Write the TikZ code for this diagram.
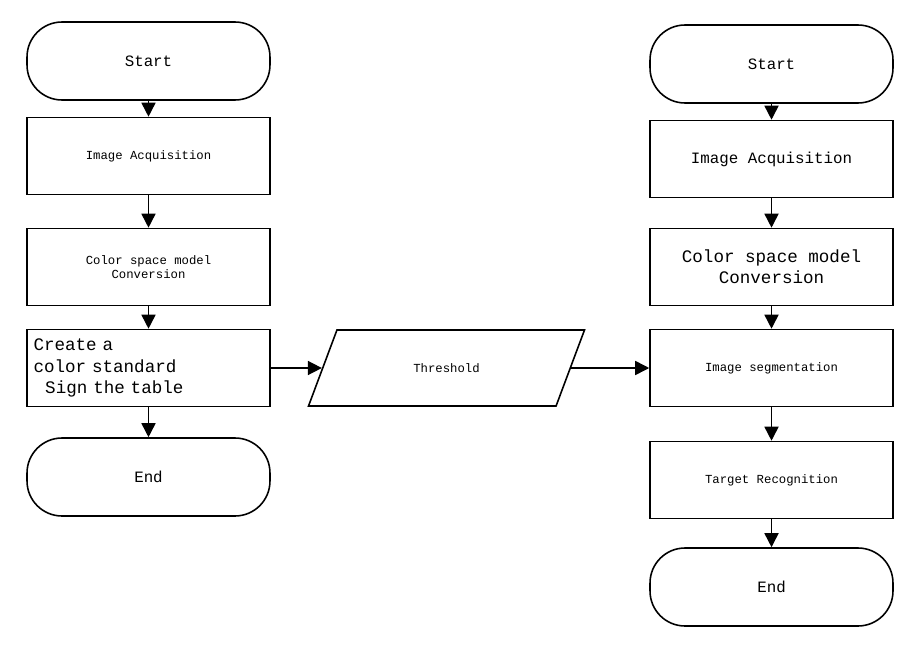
\documentclass[tikz,border=0pt]{standalone}
\usepackage{fontspec}
\setmonofont{Liberation Mono}
\usetikzlibrary{shapes.geometric,arrows.meta}
\tikzstyle{terminal}=[rectangle,rounded corners=0.7cm,draw=black,line width=0.9pt,minimum width=4.86cm,minimum height=1.56cm,font=\ttfamily\small]
\tikzstyle{process}=[rectangle,draw=black,line width=0.9pt,minimum width=4.86cm,minimum height=1.54cm,font=\ttfamily\scriptsize,align=center]
\tikzstyle{data}=[trapezium,trapezium stretches=true,trapezium left angle=64,trapezium right angle=116,draw=black,line width=0.9pt,minimum width=5.54cm,minimum height=1.52cm,font=\ttfamily\scriptsize]
\tikzstyle{flow}=[-{Triangle[length=8pt,width=8pt]},line width=0.9pt]

\begin{document}
\begin{tikzpicture}[x=0.02cm,y=-0.02cm]
	\useasboundingbox (0,0) rectangle (912,645);
	% left column
	\node [style=terminal] (Ls) at (148.5, 61) {Start};
	\node [style=process] (La) at (148.5, 156) {Image Acquisition};
	\node [style=process] (Lc) at (148.5, 267) {Color space model\\Conversion};
	\node [style=process,font=\ttfamily\normalsize,align=left,text width=4.6cm,inner xsep=0.1cm] (Lt) at (148.5, 368) {Create a\\color standard\\\ \ Sign the table};
	\node [style=terminal] (Le) at (148.5, 477) {End};
	% threshold
	\node [style=data] (T) at (446.5, 368) {Threshold};
	% right column
	\node [style=terminal] (Rs) at (771.5, 64) {Start};
	\node [style=process,font=\ttfamily\small] (Ra) at (771.5, 159) {Image Acquisition};
	\node [style=process,font=\ttfamily\normalsize] (Rc) at (771.5, 267) {Color space model\\Conversion};
	\node [style=process] (Rg) at (771.5, 368) {Image segmentation};
	\node [style=process] (Rr) at (771.5, 480) {Target Recognition};
	\node [style=terminal] (Re) at (771.5, 587) {End};

	\draw [style=flow] (Ls) to (La);
	\draw [style=flow] (La) to (Lc);
	\draw [style=flow] (Lc) to (Lt);
	\draw [style=flow] (Lt) to (Le);
	\draw [style=flow] (Lt) to (T);
	\draw [style=flow] (T) to (Rg);
	\draw [style=flow] (Rs) to (Ra);
	\draw [style=flow] (Ra) to (Rc);
	\draw [style=flow] (Rc) to (Rg);
	\draw [style=flow] (Rg) to (Rr);
	\draw [style=flow] (Rr) to (Re);
\end{tikzpicture}
\end{document}
